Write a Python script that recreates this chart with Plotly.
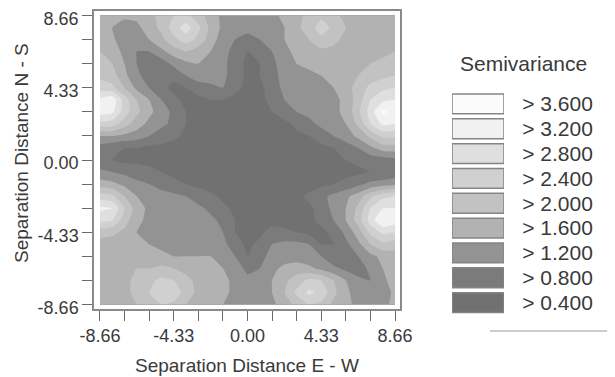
import plotly.graph_objects as go

# Lag positions (separation distances) of the semivariogram map grid
lags_ew = [-8.66, -7.94, -7.22, -6.50, -5.77, -5.05, -4.33, -3.61, -2.89, -2.17, -1.44, -0.72,
           0.00, 0.72, 1.44, 2.17, 2.89, 3.61, 4.33, 5.05, 5.77, 6.50, 7.22, 7.94, 8.66]
lags_ns = [8.66, 7.94, 7.22, 6.50, 5.77, 5.05, 4.33, 3.61, 2.89, 2.17, 1.44, 0.72,
           0.00, -0.72, -1.44, -2.17, -2.89, -3.61, -4.33, -5.05, -5.77, -6.50, -7.22, -7.94, -8.66]

# Semivariance, rows from N (top) to S (bottom), columns W to E
semivariance = [
    [1.8, 1.7, 1.7, 1.7, 1.9, 2.1, 2.4, 2.5, 2.2, 1.8, 1.5, 1.4, 1.4, 1.4, 1.5, 1.7, 1.9, 2.1, 2.3, 2.1, 1.9, 1.8, 1.8, 1.8, 1.8],
    [1.8, 1.6, 1.4, 1.5, 1.8, 2.1, 2.6, 3.0, 2.5, 1.9, 1.5, 1.3, 1.3, 1.3, 1.4, 1.6, 1.9, 2.2, 2.6, 2.3, 2.0, 1.8, 1.8, 1.8, 1.8],
    [1.9, 1.7, 1.3, 1.4, 1.6, 1.9, 2.3, 2.6, 2.3, 1.8, 1.4, 1.2, 1.1, 1.2, 1.4, 1.6, 1.8, 2.0, 2.3, 2.1, 1.9, 1.8, 1.8, 1.8, 1.8],
    [2.0, 1.8, 1.5, 1.2, 1.2, 1.5, 1.8, 2.0, 1.8, 1.6, 1.3, 1.1, 0.8, 0.9, 1.2, 1.5, 1.7, 1.8, 1.9, 1.9, 1.8, 1.8, 1.8, 1.9, 2.0],
    [2.1, 2.0, 1.6, 1.2, 0.9, 1.0, 1.3, 1.5, 1.6, 1.5, 1.3, 1.0, 0.7, 0.8, 1.1, 1.4, 1.6, 1.7, 1.8, 1.8, 1.8, 1.9, 2.0, 2.1, 2.2],
    [2.3, 2.2, 1.7, 1.3, 1.0, 0.8, 0.9, 1.2, 1.4, 1.4, 1.3, 1.0, 0.7, 0.8, 1.1, 1.3, 1.5, 1.5, 1.6, 1.7, 1.8, 2.0, 2.2, 2.3, 2.4],
    [2.6, 2.5, 2.0, 1.5, 1.2, 0.9, 0.7, 0.8, 1.0, 1.1, 1.2, 0.9, 0.7, 0.7, 1.0, 1.3, 1.4, 1.4, 1.5, 1.6, 1.8, 2.2, 2.5, 2.7, 2.8],
    [3.3, 3.5, 2.6, 2.0, 1.6, 1.2, 0.9, 0.7, 0.7, 0.8, 0.8, 0.7, 0.6, 0.7, 0.9, 1.2, 1.3, 1.4, 1.4, 1.5, 1.7, 2.2, 2.8, 3.1, 3.2],
    [3.4, 3.3, 2.6, 2.1, 1.7, 1.4, 1.1, 0.8, 0.7, 0.6, 0.6, 0.6, 0.6, 0.6, 0.8, 1.0, 1.2, 1.3, 1.4, 1.5, 1.7, 2.3, 3.0, 3.7, 3.4],
    [2.7, 2.6, 2.2, 1.8, 1.5, 1.3, 1.1, 0.8, 0.6, 0.6, 0.6, 0.6, 0.6, 0.6, 0.6, 0.7, 0.9, 1.1, 1.3, 1.4, 1.6, 2.1, 2.8, 3.3, 3.2],
    [1.6, 1.6, 1.5, 1.4, 1.2, 1.0, 0.9, 0.7, 0.6, 0.6, 0.6, 0.6, 0.6, 0.6, 0.6, 0.6, 0.7, 0.8, 1.0, 1.2, 1.4, 1.7, 2.1, 2.5, 2.5],
    [1.0, 0.9, 0.8, 0.8, 0.7, 0.7, 0.6, 0.6, 0.6, 0.6, 0.6, 0.6, 0.6, 0.6, 0.6, 0.6, 0.6, 0.7, 0.7, 0.8, 1.0, 1.2, 1.5, 1.8, 1.8],
    [0.9, 0.8, 0.7, 0.7, 0.7, 0.6, 0.6, 0.6, 0.6, 0.6, 0.6, 0.6, 0.6, 0.6, 0.6, 0.6, 0.6, 0.6, 0.7, 0.7, 0.8, 0.9, 1.0, 1.0, 1.1],
    [1.3, 1.2, 1.1, 1.0, 0.9, 0.8, 0.7, 0.6, 0.6, 0.6, 0.6, 0.6, 0.6, 0.6, 0.6, 0.6, 0.6, 0.6, 0.6, 0.6, 0.7, 0.7, 0.8, 0.8, 0.9],
    [1.8, 1.7, 1.5, 1.3, 1.2, 1.1, 0.9, 0.8, 0.7, 0.6, 0.6, 0.6, 0.6, 0.6, 0.6, 0.6, 0.6, 0.6, 0.7, 0.8, 0.9, 1.1, 1.3, 1.4, 1.5],
    [2.6, 2.5, 2.0, 1.6, 1.4, 1.3, 1.3, 1.2, 1.0, 0.9, 0.7, 0.6, 0.6, 0.6, 0.6, 0.6, 0.7, 0.9, 1.1, 1.3, 1.5, 1.8, 2.3, 2.7, 2.8],
    [3.3, 3.2, 2.4, 1.8, 1.5, 1.4, 1.4, 1.3, 1.3, 1.1, 0.9, 0.7, 0.6, 0.6, 0.6, 0.6, 0.6, 0.7, 1.0, 1.3, 1.6, 2.1, 2.8, 3.2, 3.2],
    [2.9, 2.8, 2.2, 1.7, 1.5, 1.4, 1.4, 1.4, 1.4, 1.3, 1.1, 0.8, 0.6, 0.6, 0.6, 0.6, 0.6, 0.7, 0.9, 1.2, 1.6, 2.2, 3.0, 3.6, 3.4],
    [2.2, 2.1, 1.9, 1.6, 1.5, 1.4, 1.4, 1.4, 1.4, 1.4, 1.2, 0.8, 0.7, 0.7, 1.0, 0.9, 0.8, 0.7, 0.7, 0.9, 1.3, 1.8, 2.5, 2.9, 2.8],
    [1.8, 1.8, 1.8, 1.7, 1.6, 1.5, 1.5, 1.5, 1.5, 1.4, 1.3, 1.0, 0.7, 0.9, 1.2, 1.3, 1.3, 1.2, 0.8, 0.8, 1.1, 1.5, 2.0, 2.3, 2.2],
    [1.8, 1.8, 1.8, 1.8, 1.7, 1.7, 1.6, 1.6, 1.6, 1.6, 1.5, 1.2, 0.8, 1.1, 1.3, 1.4, 1.4, 1.3, 1.2, 0.9, 0.9, 1.2, 1.5, 1.7, 1.8],
    [1.8, 1.8, 1.9, 2.0, 2.0, 2.1, 2.0, 1.9, 1.8, 1.7, 1.6, 1.4, 1.1, 1.2, 1.5, 1.7, 1.8, 1.7, 1.5, 1.3, 1.1, 1.0, 1.3, 1.6, 1.8],
    [1.8, 1.8, 1.9, 2.1, 2.3, 2.5, 2.4, 2.1, 1.9, 1.8, 1.7, 1.5, 1.3, 1.4, 1.6, 1.9, 2.2, 2.5, 2.4, 2.0, 1.6, 1.3, 1.2, 1.5, 1.8],
    [1.8, 1.8, 1.9, 2.1, 2.4, 2.8, 2.7, 2.2, 1.9, 1.8, 1.7, 1.5, 1.4, 1.4, 1.6, 2.0, 2.5, 2.9, 2.7, 2.1, 1.7, 1.4, 1.3, 1.4, 1.7],
    [1.8, 1.8, 1.8, 2.0, 2.2, 2.4, 2.3, 2.0, 1.8, 1.7, 1.6, 1.5, 1.4, 1.4, 1.5, 1.8, 2.1, 2.4, 2.3, 1.9, 1.7, 1.5, 1.4, 1.5, 1.7],
]

# Class thresholds and legend labels (top to bottom)
class_levels = [3.6, 3.2, 2.8, 2.4, 2.0, 1.6, 1.2, 0.8, 0.4]
class_labels = ["> 3.600", "> 3.200", "> 2.800", "> 2.400", "> 2.000",
                "> 1.600", "> 1.200", "> 0.800", "> 0.400"]
class_colors = ["#fbfbfb", "#f1f1f1", "#dfdfdf", "#d0d0d0", "#c2c2c2",
                "#b2b2b2", "#939393", "#7b7b7b", "#717171"]
below_color = "#6a6a6a"

tick_vals = [-8.66, -4.33, 0.00, 4.33, 8.66]
tick_text = ["-8.66", "-4.33", "0.00", "4.33", "8.66"]

# The page body has an 8 px margin, so the figure is sized/offset to fit the window
PAGE_OFF = 8
W, H = 615 - PAGE_OFF, 377 - PAGE_OFF
FONT = "Liberation Sans, Arial, sans-serif"
TXT = "#3a3a3a"
FRAME = "#8a8a8a"

def px_x(p):
    return (p - PAGE_OFF) / W

def px_y(p):
    return 1 - (p - PAGE_OFF) / H

# colorscale: band k (below first level, then each level upwards) at k/9
band_colors = [below_color] + class_colors[::-1]
colorscale = [[k / 9, c] for k, c in enumerate(band_colors)]

fig = go.Figure()
fig.add_trace(go.Contour(
    x=lags_ew,
    y=lags_ns[::-1],
    z=semivariance[::-1],
    contours=dict(start=min(class_levels), end=max(class_levels), size=0.4,
                  coloring="fill", showlines=False),
    line=dict(width=0, smoothing=0.4),
    colorscale=colorscale,
    showscale=False,
    hoverinfo="skip",
    xaxis="x", yaxis="y",
))

# Legend drawn as a small bar chart of the classes
fig.add_trace(go.Bar(
    y=class_labels,
    x=[1] * len(class_labels),
    orientation="h",
    marker=dict(color=class_colors, line=dict(color="#858585", width=1.5)),
    width=0.8,
    showlegend=False,
    hoverinfo="skip",
    xaxis="x2", yaxis="y2",
))

axis_common = dict(
    showline=True, linecolor=FRAME, linewidth=1.5, mirror=True,
    ticks="outside", ticklen=10, tickwidth=1.2, tickcolor="#6a6a6a",
    showgrid=False, zeroline=False,
    tickmode="array", tickvals=tick_vals, ticktext=tick_text,
    tickfont=dict(family=FONT, size=18, color=TXT),
    ticklabeloverflow="allow",
    minor=dict(ticks="outside", ticklen=10, tickwidth=1.2, tickcolor="#6a6a6a",
               tick0=-8.66, dtick=8.66 / 6, showgrid=False),
    automargin=False, fixedrange=True,
)

fig.update_layout(
    width=W, height=H,
    margin=dict(l=0, r=0, t=0, b=0),
    paper_bgcolor="white", plot_bgcolor="white",
    showlegend=False,
    xaxis=dict(domain=[px_x(94), px_x(400)], range=[-9.01, 8.95], anchor="y", **axis_common),
    yaxis=dict(domain=[px_y(309), px_y(11)], range=[-8.93, 8.93], anchor="x",
               ticklabelshift=3, **axis_common),
    xaxis2=dict(domain=[px_x(452), px_x(504)], range=[0, 1], anchor="y2",
                visible=False, fixedrange=True),
    yaxis2=dict(domain=[px_y(315), px_y(91.5)], anchor="x2", side="right",
                type="category", autorange="reversed",
                tickmode="array", tickvals=class_labels, ticktext=class_labels,
                showline=False, showgrid=False, zeroline=False,
                ticks="outside", ticklen=13, tickcolor="rgba(0,0,0,0)",
                tickfont=dict(family=FONT, size=21, color=TXT),
                automargin=False, fixedrange=True),
    bargap=0.19,
    annotations=[
        dict(text="Separation Distance E - W", x=px_x(247), y=px_y(365),
             xref="paper", yref="paper", showarrow=False, xanchor="center", yanchor="middle",
             font=dict(family=FONT, size=19, color=TXT)),
        dict(text="Separation Distance N - S", x=px_x(21), y=px_y(153),
             xref="paper", yref="paper", showarrow=False, xanchor="center", yanchor="middle",
             textangle=-90, font=dict(family=FONT, size=19, color=TXT)),
        dict(text="Semivariance", x=px_x(523), y=px_y(63),
             xref="paper", yref="paper", showarrow=False, xanchor="center", yanchor="middle",
             font=dict(family=FONT, size=21, color=TXT)),
    ],
    shapes=[
        dict(type="line", xref="paper", yref="paper",
             x0=px_x(611), x1=px_x(611), y0=px_y(46), y1=px_y(331),
             line=dict(color="#9a9a9a", width=1.2)),
        dict(type="line", xref="paper", yref="paper",
             x0=px_x(490), x1=px_x(611), y0=px_y(331), y1=px_y(331),
             line=dict(color="#9a9a9a", width=1.2)),
    ],
)

fig.write_html("out.html")
